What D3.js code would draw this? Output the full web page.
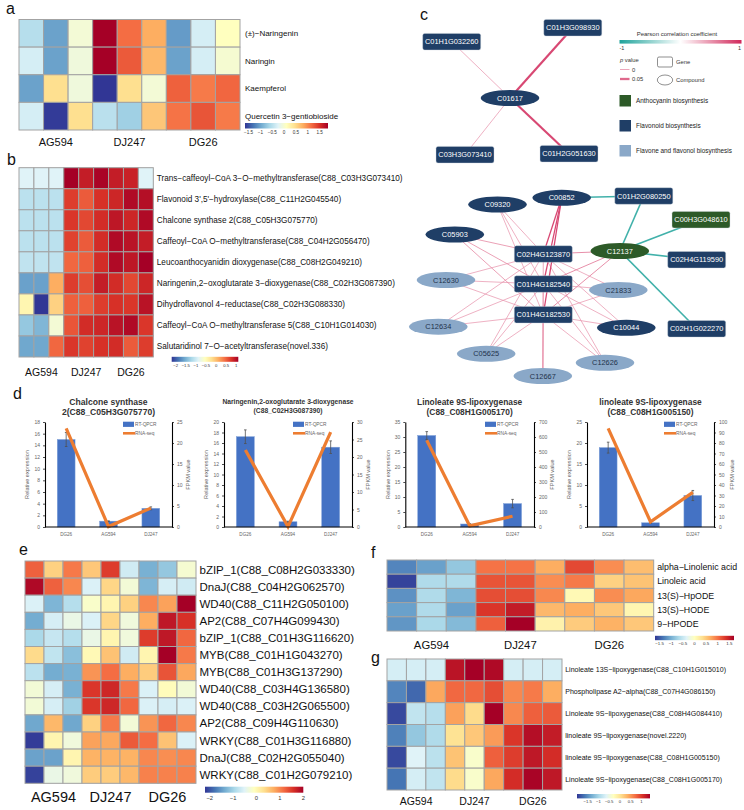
<!DOCTYPE html>
<html><head><meta charset="utf-8">
<script src="https://cdn.jsdelivr.net/npm/d3@7"></script>
<style>body{margin:0;background:#fff}svg{display:block;font-family:"Liberation Sans",Arial,Helvetica,sans-serif}</style>
</head><body><svg id="fig" width="744" height="810"></svg>
<script>
// ================= DATA =================
const groups = ["AG594","DJ247","DG26"];
const samples = ["AG594_1","AG594_2","AG594_3","DJ247_1","DJ247_2","DJ247_3","DG26_1","DG26_2","DG26_3"];

// panel a: flavonoid metabolites (z-score)
const aRows = ["(±)−Naringenin","Naringin","Kaempferol","Quercetin 3−gentiobioside"];
const aValues = [
 [-0.53,-1.02,-0.04,1.85,1.15,0.80,-1.06,-0.32,0.10],
 [-0.32,-1.02,-0.08,1.85,1.26,0.73,-1.02,-0.32,-0.01],
 [-1.02,0.45,-0.08,-1.65,0.45,-0.04,1.22,1.08,1.19],
 [-0.32,-1.62,0.45,-0.50,-0.67,0.63,1.12,1.29,1.08]];
const aTicks = [-1.5,-1,-0.5,0,0.5,1,1.5];

// panel b: flavonoid genes
const bRows = ["Trans−caffeoyl−CoA 3−O−methyltransferase(C88_C03H3G073410)","Flavonoid 3',5'−hydroxylase(C88_C11H2G045540)","Chalcone synthase 2(C88_C05H3G075770)","Caffeoyl−CoA O−methyltransferase(C88_C04H2G056470)","Leucoanthocyanidin dioxygenase(C88_C08H2G049210)","Naringenin,2−oxoglutarate 3−dioxygenase(C88_C02H3G087390)","Dihydroflavonol 4−reductase(C88_C02H3G088330)","Caffeoyl−CoA O−methyltransferase 5(C88_C10H1G014030)","Salutaridinol 7−O−acetyltransferase(novel.336)"];
const bValues = [
 [-0.88,-0.88,-0.88,1.10,0.90,1.07,0.90,0.87,-0.88],
 [-1.11,-1.11,-1.11,0.70,0.54,0.77,0.84,1.03,1.00],
 [-1.11,-1.11,-1.11,0.74,0.64,0.80,0.94,0.84,1.03],
 [-1.11,-1.11,-1.11,0.67,0.54,0.80,1.03,0.97,0.90],
 [-1.08,-1.08,-1.08,0.47,0.51,0.80,1.03,0.94,1.10],
 [-1.61,-1.61,0.11,0.70,0.61,0.90,0.80,0.64,0.84],
 [-0.45,-2.20,-0.12,0.51,0.51,0.70,0.77,0.74,0.97],
 [-1.34,-1.47,-0.68,0.57,0.80,0.84,0.97,1.03,0.74],
 [-1.57,-1.57,0.47,0.74,0.67,0.77,0.80,0.54,0.70]];
const bTicks = [-2,-1.5,-1,-0.5,0,0.5,1];

// panel c: correlation network
const netNodes = [
 ["C01617","compound","Flavonoid biosynthesis"],
 ["C01H1G032260","gene","Flavonoid biosynthesis"],
 ["C01H3G098930","gene","Flavonoid biosynthesis"],
 ["C03H3G073410","gene","Flavonoid biosynthesis"],
 ["C01H2G051630","gene","Flavonoid biosynthesis"],
 ["C00852","compound","Flavonoid biosynthesis"],
 ["C09320","compound","Flavonoid biosynthesis"],
 ["C05903","compound","Flavonoid biosynthesis"],
 ["C01H2G080250","gene","Flavonoid biosynthesis"],
 ["C00H3G048610","gene","Anthocyanin biosynthesis"],
 ["C12137","compound","Anthocyanin biosynthesis"],
 ["C02H4G119590","gene","Flavonoid biosynthesis"],
 ["C02H4G123870","gene","Flavonoid biosynthesis"],
 ["C12630","compound","Flavone and flavonol biosynthesis"],
 ["C01H4G182540","gene","Flavonoid biosynthesis"],
 ["C21833","compound","Flavone and flavonol biosynthesis"],
 ["C01H4G182530","gene","Flavonoid biosynthesis"],
 ["C12634","compound","Flavone and flavonol biosynthesis"],
 ["C10044","compound","Flavonoid biosynthesis"],
 ["C02H1G022270","gene","Flavonoid biosynthesis"],
 ["C05625","compound","Flavone and flavonol biosynthesis"],
 ["C12626","compound","Flavone and flavonol biosynthesis"],
 ["C12667","compound","Flavone and flavonol biosynthesis"]];
// edges: source, target, Pearson r, p value
const netEdges = [
 ["C01617","C01H1G032260",0.5,0.004],["C01617","C01H3G098930",0.85,0.045],
 ["C01617","C03H3G073410",0.5,0.004],["C01617","C01H2G051630",0.85,0.045],
 ["C00852","C01H2G080250",-0.85,0.03],["C01H2G080250","C12137",-0.85,0.03],
 ["C12137","C00H3G048610",-0.85,0.03],["C12137","C02H4G119590",-0.85,0.03],
 ["C12137","C02H1G022270",-0.85,0.03]];
const hubGenes = ["C02H4G123870","C01H4G182540","C01H4G182530"];
const hubPartners = [["C09320",0.5,0.004],["C05903",0.55,0.006],["C12630",0.5,0.004],["C21833",0.5,0.004],
 ["C12634",0.5,0.004],["C10044",0.5,0.004],["C05625",0.5,0.004],["C12626",0.5,0.004],
 ["C12667",0.5,0.006],["C12137",0.6,0.008],["C00852",0.85,0.02]];
const pathways = ["Anthocyanin biosynthesis","Flavonoid biosynthesis","Flavone and flavonol biosynthesis"];

// panel d: qRT-PCR validation
const dTitles = [["Chalcone synthase","2(C88_C05H3G075770)"],["Naringenin,2-oxoglutarate 3-dioxygenase","(C88_C02H3G087390)"],["Linoleate 9S-lipoxygenase","(C88_C08H1G005170)"],["linoleate 9S-lipoxygenase","(C88_C08H1G005150)"]];
const dCats = ["DG26","AG594","DJ247"];
const qpcr = [[15.0,1.0,3.2],[17.2,1.0,15.2],[30.5,1.0,7.8],[18.9,1.0,7.5]];
const qpcrErr = [[1.2,0.05,0.25],[1.3,0.1,1.2],[1.3,0.1,1.4],[1.3,0.1,1.2]];
const fpkm = [[23.5,0.1,4.5],[22.0,0.1,27.1],[578,8,72],[94,5,33]];
const leftMax = [18,20,35,25], leftStep = [2,2,5,5];
const rightMax = [25,30,700,100], rightStep = [5,5,100,10];

// panel e: transcription factors
const eRows = ["bZIP_1(C88_C08H2G033330)","DnaJ(C88_C04H2G062570)","WD40(C88_C11H2G050100)","AP2(C88_C07H4G099430)","bZIP_1(C88_C01H3G116620)","MYB(C88_C01H1G043270)","MYB(C88_C01H3G137290)","WD40(C88_C03H4G136580)","WD40(C88_C03H2G065500)","AP2(C88_C09H4G110630)","WRKY(C88_C01H3G116880)","DnaJ(C88_C02H2G055040)","WRKY(C88_C01H2G079210)"];
const eValues = [
 [1.24,0.45,1.08,0.53,1.50,-0.65,-1.32,-1.11,-0.23],
 [1.92,1.24,0.99,-0.56,0.40,-0.27,-1.28,-0.60,-0.65],
 [-0.56,-1.28,-0.86,-0.18,0.03,0.45,0.99,0.82,2.00],
 [-1.36,-0.60,-0.39,-0.56,0.40,-0.31,0.74,1.79,1.58],
 [-0.94,-0.73,-0.86,-0.39,0.03,-0.31,1.50,1.79,1.20],
 [0.36,-0.77,-1.19,-0.02,0.57,-0.65,0.03,2.00,1.08],
 [-0.81,-1.36,-1.32,0.91,1.16,0.74,0.49,1.33,0.78],
 [-0.27,-0.60,-1.32,1.54,1.66,1.08,-0.56,-0.06,-0.27],
 [-0.27,-0.60,-1.02,1.54,1.66,1.20,-0.56,-0.60,-0.56],
 [-1.40,0.66,-1.40,0.45,1.08,-0.27,0.91,1.20,0.99],
 [-2.16,0.03,-0.31,0.82,0.78,1.29,1.16,0.57,-0.56],
 [-1.44,-1.44,0.03,0.70,0.70,0.70,0.99,0.95,0.99],
 [-2.12,-0.39,-0.31,0.49,0.49,0.66,1.03,1.03,1.03]];
const eTicks = [-2,-1,0,1,2];

// panel f: linoleic acid metabolites
const fRows = ["alpha−Linolenic acid","Linoleic acid","13(S)−HpODE","13(S)−HODE","9−HPODE"];
const fValues = [
 [-1.26,-1.09,-0.82,0.99,0.99,0.68,1.22,0.85,0.58],
 [-1.63,-0.65,-0.65,1.16,1.16,0.85,0.95,0.44,0.54],
 [-1.19,-0.65,-0.95,1.19,1.19,0.88,0.07,0.85,0.71],
 [-1.09,-0.65,-1.09,1.33,1.50,0.61,0.68,0.51,0.10],
 [-1.16,-0.68,-0.92,1.09,1.70,0.14,0.48,0.65,0.51]];
const fTicks = [-1.5,-1,-0.5,0,0.5,1,1.5];

// panel g: linoleic acid genes
const gRows = ["Linoleate 13S−lipoxygenase(C88_C10H1G015010)","Phospholipase A2−alpha(C88_C07H4G086150)","Linoleate 9S−lipoxygenase(C88_C08H4G084410)","linoleate 9S−lipoxygenase(novel.2220)","linoleate 9S−lipoxygenase(C88_C08H1G005150)","Linoleate 9S−lipoxygenase(C88_C08H1G005170)"];
const gValues = [
 [-0.71,-0.71,-0.71,1.26,1.40,1.33,-0.71,-0.71,-0.71],
 [-1.56,-1.73,0.41,0.75,0.75,0.89,0.58,0.65,0.38],
 [-1.90,-0.84,-0.91,0.45,0.07,1.40,0.58,0.79,0.82],
 [-1.59,-1.12,-0.95,0.01,0.21,0.48,1.03,1.30,1.20],
 [-1.90,-0.64,-0.88,0.24,-0.37,0.79,0.99,1.23,1.09],
 [-1.66,-0.71,-0.84,0.07,-0.37,0.41,1.09,1.37,1.23]];
const gTicks = [-1.5,-1,-0.5,0,0.5,1];

// ================= DRAWING =================
const svg = d3.select("#fig");
const defs = svg.append("defs");
const pal = ["#313695","#4575b4","#74add1","#abd9e9","#e0f3f8","#ffffbf","#fee090","#fdae61","#f46d43","#d73027","#a50026"];
const minus = v => String(v).replace("-","−");

function panelLabel(t,x,y){
  svg.append("text").attr("x",x).attr("y",y).attr("font-size",16).attr("fill","#111").text(t);
}

let gradN = 0;
function heatmap(c){
  const g = svg.append("g");
  const x = d3.scaleBand().domain(samples).range([c.box[0],c.box[1]]);
  const y = d3.scaleBand().domain(c.rows).range([c.box[2],c.box[3]]);
  const col = d3.scaleLinear().domain(pal.map((p,i)=>c.lo+i*(c.hi-c.lo)/10)).range(pal).clamp(true);
  const cells = [];
  c.values.forEach((r,ri)=>r.forEach((v,ci)=>cells.push({r:c.rows[ri],s:samples[ci],v})));
  g.append("rect").attr("x",c.box[0]).attr("y",c.box[2]).attr("width",c.box[1]-c.box[0]).attr("height",c.box[3]-c.box[2]).attr("fill","#a3a3a3");
  g.selectAll("rect.cell").data(cells).join("rect").attr("class","cell")
    .attr("x",d=>x(d.s)).attr("y",d=>y(d.r)).attr("width",x.bandwidth()).attr("height",y.bandwidth())
    .attr("fill",d=>col(d.v)).attr("stroke","#a3a3a3").attr("stroke-width",1);
  g.selectAll("text.rl").data(c.rows).join("text").attr("class","rl")
    .attr("x",c.box[1]+c.gap).attr("y",d=>y(d)+y.bandwidth()/2).attr("dy","0.35em")
    .attr("font-size",c.rowFont).attr("fill","#111").text(d=>d);
  groups.forEach((gn,i)=>{
    const cx = x(samples[i*3]) + 1.5*x.bandwidth();
    g.append("text").attr("x",cx).attr("y",c.groupY).attr("text-anchor","middle")
      .attr("font-size",c.groupFont).attr("fill","#111").text(gn);
  });
  const id = "hg"+(gradN++);
  const lg = defs.append("linearGradient").attr("id",id);
  pal.forEach((p,i)=>lg.append("stop").attr("offset",(i*10)+"%").attr("stop-color",p));
  const cb = c.cbar;
  g.append("rect").attr("x",cb[0]).attr("y",cb[2]).attr("width",cb[1]-cb[0]).attr("height",cb[3]).attr("fill",`url(#${id})`);
  const cs = d3.scaleLinear().domain([c.lo,c.hi]).range([cb[0],cb[1]]);
  g.selectAll("text.ct").data(c.ticks).join("text").attr("class","ct")
    .attr("x",d=>cs(d)).attr("y",c.tickY).attr("dy","0.35em").attr("text-anchor","middle")
    .attr("font-size",c.tickFont).attr("fill","#333").text(d=>minus(d));
}

// ---- panel a
panelLabel("a",6,14);
heatmap({rows:aRows,values:aValues,lo:-1.65,hi:1.85,ticks:aTicks,box:[19,240,19.5,130],gap:5,rowFont:8,
  groupY:146,groupFont:11,cbar:[245,328,123,5.5],tickY:132,tickFont:4.6});
// ---- panel b
panelLabel("b",7,165);
heatmap({rows:bRows,values:bValues,lo:-2.2,hi:1.1,ticks:bTicks,box:[19,153.3,167.7,357],gap:3.5,rowFont:8.2,
  groupY:375.5,groupFont:10.5,cbar:[171.7,238.3,356.8,5],tickY:365.5,tickFont:4.2});

// ---- panel c
panelLabel("c",420,20);
{
  const cx = d3.scaleLinear().domain([0,364]).range([380,744]);
  const cy = d3.scaleLinear().domain([0,390]).range([0,390]);
  const netLayout = {
    C01617:[130,98],C01H1G032260:[71.7,41.7],C01H3G098930:[192.8,27.7],C03H3G073410:[85,154.7],C01H2G051630:[189,153.7],
    C00852:[181.7,197.8],C09320:[117.5,204.5],C05903:[74.8,234.5],C01H2G080250:[263.8,196],C00H3G048610:[321,219.7],
    C12137:[239.8,251],C02H4G119590:[316.7,259.7],C02H4G123870:[163.3,254],C12630:[66,280],C01H4G182540:[163.3,284],
    C21833:[238.3,290],C01H4G182530:[163.3,314.7],C12634:[58.3,326.7],C10044:[246.3,327.8],C02H1G022270:[316.7,328.8],
    C05625:[106.2,353.8],C12626:[225,362.8],C12667:[162.8,376]};
  const pathColor = d3.scaleOrdinal().domain(pathways).range(["#2d5a28","#1f3e66","#8aa8c8"]);
  const rColor = d3.scaleLinear().domain([-1,0,1]).range(["#1fa39b","#ffffff","#d1285a"]);
  const pWidth = d3.scaleLinear().domain([0,0.05]).range([0.6,2.3]);
  const edges = netEdges.slice();
  hubGenes.forEach(gn=>hubPartners.forEach(([cp,r,p])=>edges.push([gn,cp,r,p])));
  edges.sort((a,b)=>a[3]-b[3]);
  const pos = id => [cx(netLayout[id][0]), cy(netLayout[id][1])];
  const g = svg.append("g");
  g.selectAll("line").data(edges).join("line")
    .attr("x1",d=>pos(d[0])[0]).attr("y1",d=>pos(d[0])[1]).attr("x2",d=>pos(d[1])[0]).attr("y2",d=>pos(d[1])[1])
    .attr("stroke",d=>rColor(d[2])).attr("stroke-width",d=>pWidth(d[3]));
  const nodes = netNodes.map(([id,kind,path])=>({id,kind,path}));
  const ng = g.selectAll("g.node").data(nodes).join("g").attr("class","node")
    .attr("transform",d=>`translate(${pos(d.id)[0]},${pos(d.id)[1]})`);
  ng.filter(d=>d.kind==="gene").append("rect").attr("x",-29).attr("y",-8.3).attr("width",58).attr("height",16.6).attr("rx",2)
    .attr("fill",d=>pathColor(d.path)).attr("stroke","#d0d6de").attr("stroke-width",0.4);
  ng.filter(d=>d.kind==="compound").append("ellipse").attr("rx",29.3).attr("ry",8).attr("fill",d=>pathColor(d.path));
  ng.append("text").attr("text-anchor","middle").attr("dy","0.35em").attr("font-size",7.4)
    .attr("fill",d=>d.path==="Flavone and flavonol biosynthesis"?"#22324a":"#ffffff").text(d=>d.id);

  // legend
  const L = svg.append("g");
  const lgid = "pcc";
  const lg = defs.append("linearGradient").attr("id",lgid);
  [[-1,0],[0,50],[1,100]].forEach(([v,o])=>lg.append("stop").attr("offset",o+"%").attr("stop-color",rColor(v)));
  L.append("text").attr("x",677).attr("y",34).attr("dy","0.35em").attr("text-anchor","middle").attr("font-size",6).attr("fill","#333").text("Pearson correlation coefficient");
  L.append("rect").attr("x",619.5).attr("y",40).attr("width",122).attr("height",3.6).attr("fill",`url(#${lgid})`);
  L.append("text").attr("x",619.5).attr("y",48.5).attr("dy","0.35em").attr("font-size",5.5).attr("fill","#333").text("-1");
  L.append("text").attr("x",741).attr("y",48.5).attr("dy","0.35em").attr("text-anchor","end").attr("font-size",5.5).attr("fill","#333").text("1");
  L.append("text").attr("x",620).attr("y",60).attr("dy","0.35em").attr("font-size",5.8).attr("fill","#333")
    .html('<tspan font-style="italic">p</tspan> value');
  [[0,69.5],[0.05,79]].forEach(([p,yy])=>{
    L.append("line").attr("x1",620).attr("x2",629.5).attr("y1",yy).attr("y2",yy).attr("stroke",rColor(0.7)).attr("stroke-width",pWidth(p));
    L.append("text").attr("x",632).attr("y",yy).attr("dy","0.35em").attr("font-size",5.8).attr("fill","#333").text(p===0?"0":"0.05");
  });
  L.append("rect").attr("x",657.5).attr("y",57).attr("width",15).attr("height",10).attr("rx",1.5).attr("fill","none").attr("stroke","#444").attr("stroke-width",0.6);
  L.append("text").attr("x",676).attr("y",62).attr("dy","0.35em").attr("font-size",5.8).attr("fill","#333").text("Gene");
  L.append("ellipse").attr("cx",665).attr("cy",80).attr("rx",7.7).attr("ry",5).attr("fill","none").attr("stroke","#444").attr("stroke-width",0.6);
  L.append("text").attr("x",676).attr("y",80).attr("dy","0.35em").attr("font-size",5.8).attr("fill","#333").text("Compound");
  const py = d3.scalePoint().domain(pathways).range([100.5,150.5]);
  pathways.forEach(p=>{
    L.append("rect").attr("x",619.5).attr("y",py(p)-5.5).attr("width",11.5).attr("height",11.5).attr("fill",pathColor(p));
    L.append("text").attr("x",636).attr("y",py(p)).attr("dy","0.35em").attr("font-size",6.4).attr("fill","#222").text(p);
  });
}

// ---- panel d
panelLabel("d",13,399);
{
  const dBox = [[45,172],[224,352],[405.3,534],[587,714]];
  const legendDx = [-49,-59,-49,-50];
  const titleFont = [8.6,6.7,8.4,8.4];
  const top = 422, bot = 527;
  dTitles.forEach((t,i)=>{
    const [Lx,Rx] = dBox[i];
    const g = svg.append("g");
    const x = d3.scaleBand().domain(dCats).range([Lx,Rx]).paddingInner(0.58).paddingOuter(0.29);
    const yL = d3.scaleLinear().domain([0,leftMax[i]]).range([bot,top]);
    const yR = d3.scaleLinear().domain([0,rightMax[i]]).range([bot,top]);
    const mid = (Lx+Rx)/2;
    const small = i===1;
    g.append("text").attr("x",mid).attr("y",small?403.5:405).attr("text-anchor","middle").attr("font-weight","bold").attr("font-size",titleFont[i]).attr("fill","#333").text(t[0]);
    g.append("text").attr("x",mid).attr("y",small?412.5:415.3).attr("text-anchor","middle").attr("font-weight","bold").attr("font-size",titleFont[i]).attr("fill","#333").text(t[1]);
    // bars
    g.selectAll("rect.bar").data(dCats).join("rect").attr("class","bar")
      .attr("x",d=>x(d)).attr("width",x.bandwidth()).attr("y",(d,j)=>yL(qpcr[i][j])).attr("height",(d,j)=>bot-yL(qpcr[i][j]))
      .attr("fill","#4472c4").attr("stroke","#7e9fd8").attr("stroke-width",0.5);
    // error bars
    dCats.forEach((d,j)=>{
      const xc = x(d)+x.bandwidth()/2, y1 = yL(qpcr[i][j]+qpcrErr[i][j]), y2 = yL(qpcr[i][j]-qpcrErr[i][j]);
      g.append("line").attr("x1",xc).attr("x2",xc).attr("y1",y1).attr("y2",y2).attr("stroke","#505050").attr("stroke-width",0.8);
      g.append("line").attr("x1",xc-1.3).attr("x2",xc+1.3).attr("y1",y1).attr("y2",y1).attr("stroke","#505050").attr("stroke-width",0.8);
      g.append("line").attr("x1",xc-1.3).attr("x2",xc+1.3).attr("y1",y2).attr("y2",y2).attr("stroke","#505050").attr("stroke-width",0.8);
    });
    // line
    const ln = d3.line().x((d,j)=>x(dCats[j])+x.bandwidth()/2).y(d=>yR(d));
    g.append("path").attr("d",ln(fpkm[i])).attr("fill","none").attr("stroke","#ed7d31").attr("stroke-width",3.2).attr("stroke-linejoin","miter");
    // axes
    const ax = d3.axisLeft(yL).tickValues(d3.range(0,leftMax[i]+0.001,leftStep[i])).tickSize(2).tickSizeOuter(0).tickPadding(3);
    const ar = d3.axisRight(yR).tickValues(d3.range(0,rightMax[i]+0.001,rightStep[i])).tickSize(2).tickSizeOuter(0).tickPadding(3);
    const gl = g.append("g").attr("transform",`translate(${Lx},0)`).call(ax);
    const gr = g.append("g").attr("transform",`translate(${Rx},0)`).call(ar);
    [gl,gr].forEach(a=>{
      a.select(".domain").attr("stroke","#000").attr("stroke-width",1.1);
      a.selectAll(".tick line").attr("stroke","#000").attr("stroke-width",0.7);
      a.selectAll(".tick text").attr("font-size",5).attr("fill","#666").attr("font-family","Liberation Sans, Arial, sans-serif");
    });
    g.append("line").attr("x1",Lx).attr("x2",Rx).attr("y1",bot).attr("y2",bot).attr("stroke","#000").attr("stroke-width",1);
    g.selectAll("text.xl").data(dCats).join("text").attr("class","xl")
      .attr("x",d=>x(d)+x.bandwidth()/2).attr("y",534).attr("dy","0.35em").attr("text-anchor","middle").attr("font-size",4.6).attr("fill","#666").text(d=>d);
    const ym = (top+bot)/2;
    g.append("text").attr("transform",`translate(${Lx-17.5},${ym}) rotate(-90)`).attr("text-anchor","middle").attr("dy","0.35em").attr("font-size",5.6).attr("fill","#666").text("Relative expression");
    const rw = String(rightMax[i]).length*2.8;
    g.append("text").attr("transform",`translate(${Rx+10+rw},${ym}) rotate(-90)`).attr("text-anchor","middle").attr("dy","0.35em").attr("font-size",5.6).attr("fill","#666").text("FPKM value");
    // legend
    const lx = Rx + legendDx[i];
    g.append("rect").attr("x",lx).attr("y",421.7).attr("width",11).attr("height",5.2).attr("fill","#4472c4");
    g.append("text").attr("x",lx+12).attr("y",424.3).attr("dy","0.35em").attr("font-size",4.8).attr("fill","#666").text("RT-QPCR");
    g.append("line").attr("x1",lx).attr("x2",lx+12).attr("y1",433.3).attr("y2",433.3).attr("stroke","#ed7d31").attr("stroke-width",2.6);
    g.append("text").attr("x",lx+12).attr("y",433.3).attr("dy","0.35em").attr("font-size",4.8).attr("fill","#666").text("RNA-seq");
  });
}

// ---- panel e
panelLabel("e",19,555);
heatmap({rows:eRows,values:eValues,lo:-2.2,hi:2.0,ticks:eTicks,box:[25,196,561,783.3],gap:3.5,rowFont:11.5,
  groupY:802,groupFont:14.5,cbar:[205,303.3,786.7,6],tickY:798,tickFont:5.8});
// ---- panel f
panelLabel("f",371,558);
heatmap({rows:fRows,values:fValues,lo:-1.7,hi:1.7,ticks:fTicks,box:[387,653.7,560,631],gap:3.5,rowFont:8.8,
  groupY:648.8,groupFont:11.3,cbar:[655,734,635.8,4.4],tickY:643.8,tickFont:4.4});
// ---- panel g
panelLabel("g",371,663);
heatmap({rows:gRows,values:gValues,lo:-2.0,hi:1.4,ticks:gTicks,box:[387,562,659,790],gap:3.2,rowFont:7.05,
  groupY:805,groupFont:10.5,cbar:[577,650,794,4.4],tickY:801.7,tickFont:4.2});
</script></body></html>
